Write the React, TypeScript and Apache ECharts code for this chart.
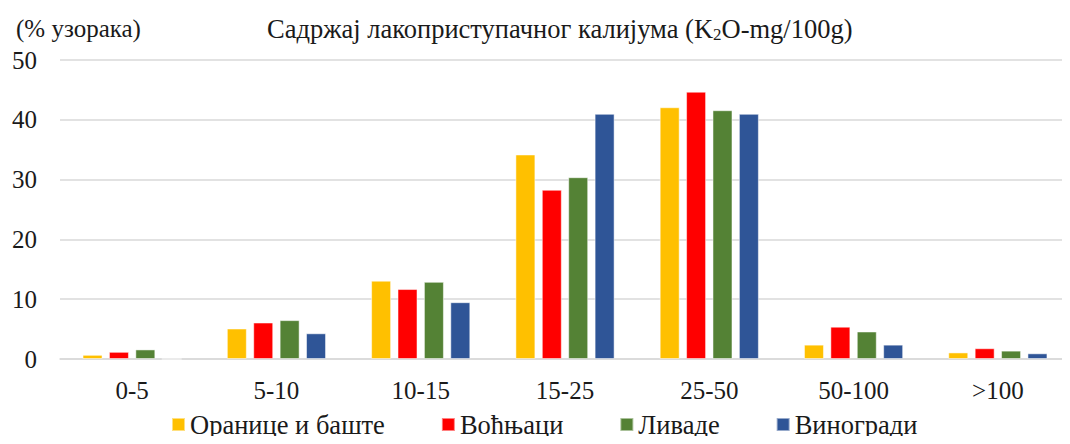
import React, { useEffect, useRef } from "react";
import * as echarts from "echarts";

const categories = ["0-5", "5-10", "10-15", "15-25", "25-50", "50-100", ">100"];
const seriesNames = ["Оранице и баште", "Воћњаци", "Ливаде", "Виногради"];
const oranice = [0.7, 5.1, 13.1, 34.2, 42.1, 2.4, 1.1];
const vocnjaci = [1.2, 6.1, 11.7, 28.3, 44.7, 5.4, 1.8];
const livade = [1.6, 6.5, 12.9, 30.4, 41.6, 4.6, 1.4];
const vinogradi = [0, 4.3, 9.5, 41.0, 41.0, 2.4, 0.95];
const colors = ["#FFC000", "#FF0000", "#548235", "#2F5597"];
const yTicks = [0, 10, 20, 30, 40, 50];

const FONT = "Liberation Serif, DejaVu Serif, serif";

export default function App() {
  const ref = useRef<HTMLDivElement>(null);
  useEffect(() => {
    if (!ref.current) return;
    const chart = echarts.init(ref.current, undefined, { renderer: "svg" });
    const data = [oranice, vocnjaci, livade, vinogradi];
    chart.setOption({
      animation: false,
      textStyle: { fontFamily: FONT },
      title: [
        {
          text: "(% узорака)",
          left: 11,
          top: 11,
          textStyle: { fontFamily: FONT, fontSize: 25, fontWeight: "normal", color: "#1a1a1a" },
        },
        {
          text: "Садржај лакоприступачног калијума (K{sub|2}O-mg/100g)",
          left: 262,
          top: 10,
          textStyle: {
            fontFamily: FONT,
            fontSize: 26.5,
            fontWeight: "normal",
            color: "#1a1a1a",
            lineHeight: 28,
            rich: {
              sub: { fontFamily: FONT, fontSize: 17, lineHeight: 17, verticalAlign: "bottom", color: "#1a1a1a" },
            },
          },
        },
      ],
      legend: {
        left: 166,
        top: 406,
        itemWidth: 13,
        itemHeight: 13,
        itemGap: 56,
        icon: "rect",
        data: seriesNames,
        textStyle: { fontFamily: FONT, fontSize: 26.5, color: "#1a1a1a" },
      },
      grid: { left: 60, right: -11, top: 60, height: 299 },
      xAxis: {
        type: "category",
        data: categories,
        axisTick: { show: false },
        axisLine: { lineStyle: { color: "#d9d9d9", width: 1.5 } },
        axisLabel: { fontFamily: FONT, fontSize: 25, color: "#1a1a1a", margin: 19 },
      },
      yAxis: {
        type: "value",
        min: yTicks[0],
        max: yTicks[yTicks.length - 1],
        interval: 10,
        axisLine: { show: false },
        axisTick: { show: false },
        splitLine: { lineStyle: { color: "#d9d9d9", width: 1.5 } },
        axisLabel: { fontFamily: FONT, fontSize: 25, color: "#1a1a1a", margin: 23 },
      },
      series: seriesNames.map((name, i) => ({
        name,
        type: "bar",
        data: data[i],
        barWidth: 20,
        barGap: "32%",
        itemStyle: { color: colors[i], borderColor: "rgba(255,255,255,0.5)", borderWidth: 1 },
      })),
    });
    return () => chart.dispose();
  }, []);
  return <div ref={ref} style={{ width: 1070, height: 444, margin: -8 }} />;
}
